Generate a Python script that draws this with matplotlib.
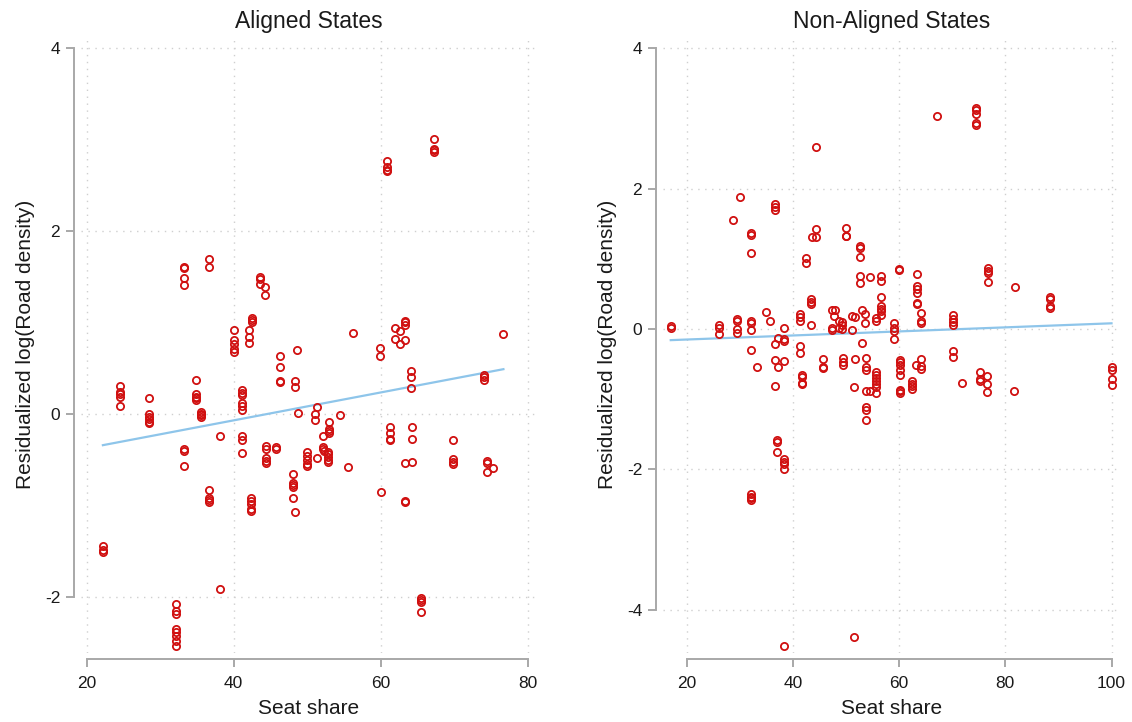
import matplotlib.pyplot as plt
import numpy as np

plt.rcParams["font.family"] = ["Liberation Sans", "DejaVu Sans"]
plt.rcParams["axes.unicode_minus"] = False

# Aligned states: seat share vs residualized log(road density)
aligned_x = [67.2, 67.2, 67.2, 67.2,
             60.8, 60.8, 60.8, 60.8,
             33.3, 33.3, 33.3, 33.3,
             36.7, 36.7,
             43.6, 43.6, 43.6, 44.2, 44.2,
             42.5, 42.5, 42.5,
             40.0, 40.0, 40.0, 40.0, 40.0,
             42.1, 42.1, 42.1,
             46.3, 48.6, 56.3, 59.9, 59.9,
             61.9, 62.6, 61.9, 62.6, 63.3, 63.3, 63.3, 63.3,
             76.7,
             24.5, 24.5, 24.5, 24.5, 24.5,
             28.5, 28.5, 28.5, 28.5, 28.5, 28.5,
             34.9, 34.9, 34.9, 34.9, 34.9,
             35.5, 35.5, 35.5, 35.5,
             41.1, 41.1, 41.1, 41.1, 41.1, 41.1, 41.1, 41.1, 41.1,
             46.3, 46.3, 46.3, 48.4, 48.4, 48.7,
             51.4, 51.0, 51.0, 54.5, 38.2,
             33.3, 33.3, 33.3,
             44.4, 44.4, 44.4, 44.4, 44.4,
             45.7, 45.7,
             36.7, 36.7, 36.7, 36.7,
             42.4, 42.4, 42.4, 42.4, 42.4,
             48.0, 48.0, 48.0, 48.0, 48.0, 48.4,
             50.0, 50.0, 50.0, 50.0, 50.0, 51.4,
             52.2, 52.2, 52.2, 52.3,
             52.8, 52.8, 52.8, 52.8, 52.8,
             53.0, 53.0, 53.0, 53.0,
             55.6, 60.0,
             61.3, 61.3, 61.3, 61.3,
             64.3, 64.3, 64.3, 63.3, 63.3, 63.3,
             64.1, 64.1, 64.1,
             69.8, 69.9, 69.9, 69.9,
             74.0, 74.0, 74.0,
             74.4, 74.4, 74.4, 75.3,
             22.2, 22.2, 22.2,
             38.2,
             32.2, 32.2, 32.2, 32.2, 32.2, 32.2, 32.2, 32.2,
             65.5, 65.5, 65.5, 65.5]
aligned_y = [3.00, 2.90, 2.88, 2.86,
             2.76, 2.70, 2.67, 2.66,
             1.61, 1.60, 1.49, 1.41,
             1.69, 1.61,
             1.50, 1.48, 1.42, 1.39, 1.30,
             1.05, 1.03, 1.01,
             0.92, 0.81, 0.77, 0.71, 0.68,
             0.92, 0.84, 0.78,
             0.63, 0.70, 0.89, 0.72, 0.63,
             0.94, 0.91, 0.82, 0.77, 0.81, 1.02, 1.00, 0.97,
             0.87,
             0.31, 0.24, 0.22, 0.19, 0.09,
             0.17, 0.00, -0.03, -0.05, -0.09, -0.10,
             0.37, 0.22, 0.19, 0.17, 0.15,
             0.02, 0.00, -0.01, -0.03,
             0.26, 0.23, 0.21, 0.12, 0.09, 0.04, -0.24, -0.28, -0.43,
             0.51, 0.36, 0.35, 0.36, 0.30, 0.01,
             0.08, 0.00, -0.07, -0.01, -0.24,
             -0.38, -0.40, -0.57,
             -0.35, -0.38, -0.48, -0.51, -0.53,
             -0.36, -0.38,
             -0.83, -0.92, -0.94, -0.96,
             -0.92, -0.95, -0.98, -1.04, -1.06,
             -0.65, -0.75, -0.77, -0.80, -0.92, -1.07,
             -0.42, -0.46, -0.50, -0.55, -0.57, -0.48,
             -0.24, -0.36, -0.38, -0.40,
             -0.41, -0.44, -0.47, -0.50, -0.52,
             -0.09, -0.16, -0.19, -0.21,
             -0.58, -0.85,
             -0.14, -0.21, -0.27, -0.28,
             -0.14, -0.27, -0.52, -0.54, -0.95, -0.96,
             0.47, 0.41, 0.28,
             -0.28, -0.49, -0.52, -0.55,
             0.43, 0.40, 0.37,
             -0.51, -0.53, -0.63, -0.59,
             -1.44, -1.48, -1.51,
             -1.91,
             -2.08, -2.15, -2.18, -2.35, -2.38, -2.42, -2.48, -2.53,
             -2.01, -2.03, -2.05, -2.16]

# Non-aligned states
nonaligned_x = [67.2,
                74.4, 74.4, 74.4, 74.4, 74.4,
                44.4, 30.1, 28.7,
                36.7, 36.7, 36.7,
                32.2, 32.2, 32.2,
                44.4, 43.6, 44.4,
                50.0, 50.0, 50.0,
                52.6, 52.6, 52.6,
                42.5, 42.5,
                60.0, 60.0, 63.4,
                76.8, 76.8, 76.8, 76.8,
                81.8,
                88.5, 88.5, 88.5, 88.5,
                52.6, 52.6, 54.6, 56.5, 56.5,
                56.5, 56.5, 56.5, 56.5, 56.5,
                63.4, 63.4, 63.4, 63.4, 63.4,
                64.2, 64.2, 64.2,
                70.2, 70.2, 70.2, 70.2,
                43.5, 43.5, 43.5, 41.4, 41.4, 41.4, 43.5,
                35.0, 35.6,
                29.5, 29.5, 29.5, 29.5,
                26.1, 26.1, 26.1,
                32.1, 32.1, 32.1,
                17.0, 17.0,
                38.3, 38.3, 38.3, 37.2, 36.7, 32.1,
                47.3, 48.0, 47.8, 47.3, 47.3, 48.6, 49.3, 49.2, 48.6, 49.3,
                51.2, 51.7, 51.2,
                53.1, 53.6, 53.6,
                55.7, 55.7, 53.1,
                59.0, 59.0, 59.0, 59.0,
                41.4, 41.4,
                70.2, 70.2,
                45.6, 49.4, 51.7, 53.8, 60.1, 64.2,
                33.3, 36.7, 37.2, 36.7, 38.3,
                41.7, 41.7, 41.7, 41.7,
                45.6, 45.6, 49.4, 49.4, 53.8, 53.8,
                55.7, 55.7, 55.7, 55.7, 55.7, 55.7, 55.7,
                53.8, 54.6, 51.5,
                53.8, 53.8, 53.8,
                60.1, 60.1, 60.1, 60.1, 60.1, 60.1, 60.1,
                62.4, 62.4, 62.4, 62.4,
                63.2, 64.2, 64.2,
                71.9,
                75.3, 75.3, 75.3, 76.6, 76.6, 76.6,
                81.7,
                100.0, 100.0, 100.0, 100.0,
                37.0, 37.0, 37.0,
                38.3, 38.3, 38.3, 38.3,
                32.2, 32.2, 32.2, 32.2,
                38.3, 51.6]
nonaligned_y = [3.03,
                3.15, 3.12, 3.07, 2.94, 2.91,
                2.60, 1.88, 1.55,
                1.78, 1.74, 1.70,
                1.37, 1.34, 1.08,
                1.43, 1.31, 1.31,
                1.44, 1.33, 1.32,
                1.18, 1.16, 1.02,
                1.01, 0.94,
                0.86, 0.84, 0.79,
                0.87, 0.83, 0.80, 0.67,
                0.60,
                0.46, 0.42, 0.32, 0.30,
                0.75, 0.66, 0.74, 0.75, 0.68,
                0.46, 0.32, 0.29, 0.25, 0.20,
                0.61, 0.57, 0.51, 0.37, 0.36,
                0.22, 0.12, 0.08,
                0.20, 0.14, 0.10, 0.05,
                0.43, 0.39, 0.35, 0.21, 0.17, 0.11, 0.06,
                0.24, 0.11,
                0.14, 0.11, 0.00, -0.06,
                0.05, 0.01, -0.07,
                0.11, 0.08, -0.01,
                0.04, 0.01,
                0.01, -0.14, -0.17, -0.13, -0.21, -0.30,
                0.27, 0.27, 0.19, 0.02, -0.02, 0.12, 0.10, 0.05, 0.02, 0.00,
                0.19, 0.17, -0.02,
                0.27, 0.21, 0.09,
                0.16, 0.11, -0.20,
                0.08, 0.02, -0.03, -0.15,
                -0.24, -0.35,
                -0.32, -0.40,
                -0.43, -0.41, -0.43, -0.42, -0.44, -0.43,
                -0.54, -0.44, -0.55, -0.81, -0.46,
                -0.66, -0.69, -0.77, -0.79,
                -0.54, -0.56, -0.47, -0.51, -0.55, -0.58,
                -0.61, -0.66, -0.70, -0.74, -0.78, -0.83, -0.92,
                -0.89, -0.89, -0.83,
                -1.12, -1.16, -1.30,
                -0.47, -0.51, -0.59, -0.66, -0.87, -0.89, -0.92,
                -0.74, -0.78, -0.81, -0.86,
                -0.51, -0.53, -0.57,
                -0.77,
                -0.62, -0.72, -0.74, -0.67, -0.79, -0.90,
                -0.89,
                -0.55, -0.58, -0.72, -0.80,
                -1.58, -1.61, -1.75,
                -1.86, -1.90, -1.93, -1.99,
                -2.35, -2.39, -2.41, -2.44,
                -4.52, -4.39]

# Fitted lines (end points)
aligned_fit_x = [22.2, 76.7]
aligned_fit_y = [-0.34, 0.49]
nonaligned_fit_x = [17.0, 100.0]
nonaligned_fit_y = [-0.16, 0.08]

panels = [
    ("Aligned States", aligned_x, aligned_y, aligned_fit_x, aligned_fit_y,
     [20, 40, 60, 80], [-2, 0, 2, 4], (19.22, 81.27), (-2.61, 4.14)),
    ("Non-Aligned States", nonaligned_x, nonaligned_y, nonaligned_fit_x, nonaligned_fit_y,
     [20, 40, 60, 80, 100], [-4, -2, 0, 2, 4], (15.54, 101.6), (-4.62, 4.19)),
]
positions = [[81 / 1132, 69 / 722, 456 / 1132, 618 / 722],
             [663 / 1132, 69 / 722, 457 / 1132, 618 / 722]]

red = "#d01010"
blue = "#8ec5ea"
axis_gray = "#a8a8a8"
text_col = "#1a1a1a"

fig = plt.figure(figsize=(11.32, 7.22), dpi=100)
for pos, (title, xs, ys, fx, fy, xt, yt, xl, yl) in zip(positions, panels):
    ax = fig.add_axes(pos)
    ax.plot(xs, ys, linestyle="none", marker="o", markersize=5.2,
            markerfacecolor="none", markeredgecolor=red, markeredgewidth=1.3, zorder=3)
    ax.plot(fx, fy, color=blue, linewidth=1.6, zorder=2)
    ax.set_xlim(*xl)
    ax.set_ylim(*yl)
    ax.set_xticks(xt)
    ax.set_yticks(yt)
    ax.grid(True, color="#cfcfcf", linestyle=(0, (1, 4)), linewidth=1.0, zorder=0)
    for s in ["top", "right"]:
        ax.spines[s].set_visible(False)
    ax.spines["left"].set_position(("outward", 5))
    ax.spines["bottom"].set_position(("outward", 4.5))
    ax.spines["left"].set_bounds(yt[0], yt[-1])
    ax.spines["bottom"].set_bounds(xt[0], xt[-1])
    for s in ["left", "bottom"]:
        ax.spines[s].set_color(axis_gray)
        ax.spines[s].set_linewidth(1.4)
    ax.tick_params(axis="both", colors=axis_gray, width=1.4, length=6,
                   labelcolor=text_col, labelsize=12.5, pad=4)
    ax.tick_params(axis="x", pad=6)
    ax.set_xlabel("Seat share", fontsize=15, color=text_col, labelpad=6)
    ax.set_ylabel("Residualized log(Road density)", fontsize=15, color=text_col, labelpad=7)
    ax.set_title(title, fontsize=16.5, color=text_col, pad=5)

plt.savefig("out.png", dpi=100)
